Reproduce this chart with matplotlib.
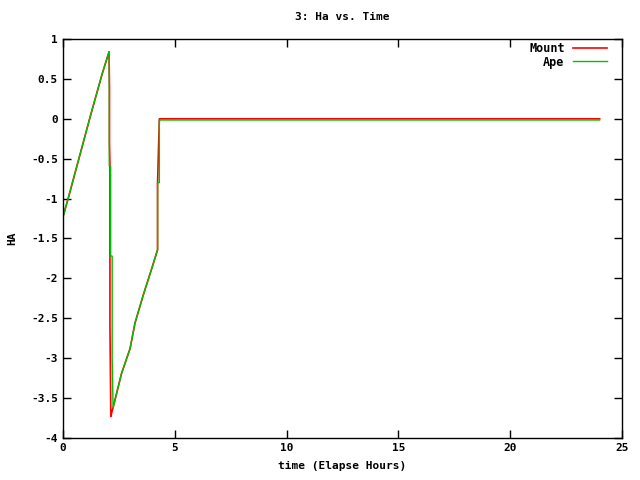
import matplotlib
matplotlib.use("Agg")
import matplotlib.pyplot as plt

# Mount HA vs elapsed hours
mount_t = [0.0, 0.25, 0.5, 0.76, 1.0, 1.25, 1.5, 1.75, 2.06,
           2.08, 2.08, 2.10, 2.10, 2.14, 2.20, 2.24,
           2.62, 3.0, 3.22, 3.6, 4.0, 4.23, 4.23, 4.31, 24.0]
mount_ha = [-1.23, -0.98, -0.72, -0.45, -0.20, 0.06, 0.31, 0.56, 0.84,
            0.36, -0.30, -0.59, -2.58, -3.73, -3.66, -3.62,
            -3.19, -2.88, -2.56, -2.20, -1.85, -1.64, -0.80, 0.0, 0.0]

# Ape HA vs elapsed hours
ape_t = [0.0, 0.25, 0.5, 0.76, 1.0, 1.25, 1.5, 1.75, 2.06,
         2.07, 2.07, 2.13, 2.13, 2.20, 2.20, 2.24,
         2.62, 3.0, 3.22, 3.6, 4.0, 4.23, 4.23, 4.31, 4.31, 24.0]
ape_ha = [-1.23, -0.98, -0.72, -0.45, -0.20, 0.06, 0.31, 0.56, 0.84,
          0.84, -0.59, -0.59, -1.72, -1.72, -3.0, -3.62,
          -3.19, -2.88, -2.56, -2.20, -1.85, -1.64, -0.80, -0.80, -0.015, -0.015]

xticks = [0, 5, 10, 15, 20, 25]
yticks = [1, 0.5, 0, -0.5, -1, -1.5, -2, -2.5, -3, -3.5, -4]

plt.rcParams['font.family'] = ['DejaVu Sans Mono']
plt.rcParams['font.weight'] = 'bold'
plt.rcParams['font.size'] = 8

fig = plt.figure(figsize=(6.4, 4.8), dpi=100)
ax = fig.add_axes([0.0984, 0.0875, 0.8735, 0.83125])

ax.plot(mount_t, mount_ha, color='#ff0000', lw=1.2, label='Mount')
ax.plot(ape_t, ape_ha, color='#00c000', lw=1.0, label='Ape')

ax.set_xlim(0, 25)
ax.set_ylim(-4, 1)
ax.set_xticks(xticks)
ax.set_yticks(yticks)
ax.set_yticklabels([('%g' % v) for v in yticks])
ax.tick_params(direction='in', top=True, right=True, length=6, width=1, labelsize=8)
for s in ax.spines.values():
    s.set_linewidth(1)

ax.set_title('3: Ha vs. Time', fontsize=8, fontweight='bold', pad=14)
ax.set_xlabel('time (Elapse Hours)', fontsize=8, fontweight='bold', labelpad=6)
ax.set_ylabel('HA', fontsize=8, fontweight='bold', labelpad=10)

leg = ax.legend(loc='upper right', bbox_to_anchor=(0.973, 0.9925), frameon=False,
                markerfirst=False, handlelength=2.9, handletextpad=0.68,
                borderpad=0, borderaxespad=0, labelspacing=0.05, fontsize=8.5)

fig.savefig('out.png', dpi=100)
